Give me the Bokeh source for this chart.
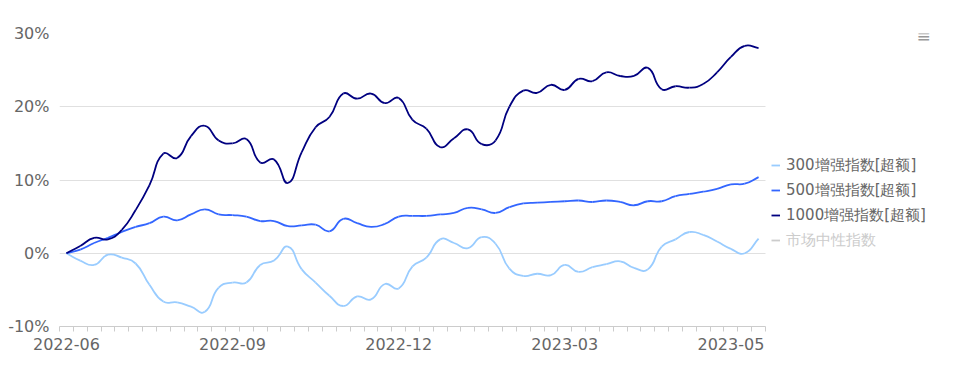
from bokeh.plotting import figure
from bokeh.models import (Range1d, FixedTicker, PrintfTickFormatter, Legend, LegendItem,
                          ColumnDataSource, Label)
from bokeh.embed import file_html
from bokeh.resources import INLINE

# ---------------- data ----------------
dates = [
    "2022-06-10", "2022-06-17", "2022-06-24", "2022-07-01", "2022-07-08", "2022-07-15",
    "2022-07-22", "2022-07-29", "2022-08-05", "2022-08-12", "2022-08-19", "2022-08-26",
    "2022-09-02", "2022-09-09", "2022-09-16", "2022-09-23", "2022-09-30", "2022-10-14",
    "2022-10-21", "2022-10-28", "2022-11-04", "2022-11-11", "2022-11-18", "2022-11-25",
    "2022-12-02", "2022-12-09", "2022-12-16", "2022-12-23", "2022-12-30", "2023-01-06",
    "2023-01-13", "2023-01-20", "2023-02-03", "2023-02-10", "2023-02-17", "2023-02-24",
    "2023-03-03", "2023-03-10", "2023-03-17", "2023-03-24", "2023-03-31", "2023-04-07",
    "2023-04-14", "2023-04-21", "2023-04-28", "2023-05-05", "2023-05-12", "2023-05-19",
    "2023-05-26", "2023-06-02", "2023-06-09",
]

s300 = [0.0, -1.0, -1.6, -0.2, -0.6, -1.4, -4.3, -6.6, -6.7, -7.3, -8.0, -4.7, -4.0,
        -4.0, -1.6, -1.0, 0.9, -2.2, -4.0, -5.8, -7.2, -5.9, -6.3, -4.2, -4.8, -1.8,
        -0.6, 1.9, 1.4, 0.7, 2.2, 1.3, -2.1, -3.1, -2.8, -3.0, -1.6, -2.55, -1.9, -1.5,
        -1.1, -2.0, -2.2, 0.9, 1.9, 2.9, 2.5, 1.6, 0.6, 0.0, 2.0]

s500 = [0.0, 0.5, 1.4, 2.1, 2.9, 3.6, 4.1, 5.0, 4.5, 5.3, 6.0, 5.3, 5.2, 5.0, 4.4,
        4.4, 3.7, 3.8, 3.9, 3.0, 4.7, 4.1, 3.6, 4.0, 5.0, 5.1, 5.1, 5.3, 5.5, 6.2, 6.0,
        5.5, 6.3, 6.8, 6.9, 7.0, 7.1, 7.2, 7.0, 7.2, 7.0, 6.55, 7.1, 7.1, 7.8, 8.1, 8.4,
        8.8, 9.4, 9.5, 10.4]

s1000 = [0.0, 1.0, 2.1, 1.9, 3.2, 5.9, 9.3, 13.6, 13.0, 16.0, 17.4, 15.4, 15.0, 15.6,
         12.4, 12.8, 9.6, 13.8, 17.2, 18.6, 21.8, 21.1, 21.8, 20.5, 21.2, 18.2, 17.0,
         14.5, 15.7, 16.9, 14.9, 15.4, 20.0, 22.2, 21.9, 23.0, 22.3, 23.8, 23.5, 24.7,
         24.2, 24.2, 25.3, 22.4, 22.8, 22.6, 23.1, 24.7, 26.8, 28.3, 28.0]

# market-neutral series is switched off in the legend; its values are not shown
s_neutral = [None]

names = ["300增强指数[超额]", "500增强指数[超额]", "1000增强指数[超额]", "市场中性指数"]
colors = ["#99CCFF", "#3366FF", "#000080", "#CCCCCC"]
label_idx = [0, 12, 24, 36, 48]
y_ticks = [-10, 0, 10, 20, 30]

# ---------------- layout constants (pixels) ----------------
W, H = 946, 360
LEFT, TOP, BOTTOM = 59, 33, 34
DATA_W = 706                 # width of the plotting area used by the data
FRAME_W = W - LEFT           # frame extended to the right so legend/icon are inside it
PX_Y = (H - TOP - BOTTOM) / 40.0

n = len(dates)
x_end = -0.5 + n * FRAME_W / DATA_W
PX_X = DATA_W / n


def bezier_source(vals, smooth=0.5):
    m = len(vals)
    pts = [(float(i), float(v)) for i, v in enumerate(vals)]
    cin, cout = [], []
    for i in range(m):
        cur = pts[i]
        prev = pts[i - 1] if i > 0 else cur
        nxt = pts[i + 1] if i < m - 1 else cur
        vx, vy = nxt[0] - prev[0], nxt[1] - prev[1]
        d0 = (((cur[0] - prev[0]) * PX_X) ** 2 + ((cur[1] - prev[1]) * PX_Y) ** 2) ** 0.5
        d1 = (((nxt[0] - cur[0]) * PX_X) ** 2 + ((nxt[1] - cur[1]) * PX_Y) ** 2) ** 0.5
        r = d0 / (d0 + d1) if (d0 + d1) > 0 else 0.5
        cin.append((cur[0] - vx * r * smooth, cur[1] - vy * r * smooth))
        cout.append((cur[0] + vx * (1 - r) * smooth, cur[1] + vy * (1 - r) * smooth))
    d = dict(x0=[], y0=[], x1=[], y1=[], cx0=[], cy0=[], cx1=[], cy1=[])
    for i in range(m - 1):
        d["x0"].append(pts[i][0]); d["y0"].append(pts[i][1])
        d["x1"].append(pts[i + 1][0]); d["y1"].append(pts[i + 1][1])
        d["cx0"].append(cout[i][0]); d["cy0"].append(cout[i][1])
        d["cx1"].append(cin[i + 1][0]); d["cy1"].append(cin[i + 1][1])
    return ColumnDataSource(d)


# ---------------- figure ----------------
p = figure(width=W, height=H, output_backend="svg", toolbar_location=None,
           x_range=Range1d(-0.5, x_end), y_range=Range1d(-10, 30),
           min_border_left=LEFT, min_border_right=0, min_border_top=TOP,
           min_border_bottom=BOTTOM)
p.outline_line_color = None
p.background_fill_color = "white"
p.border_fill_color = "white"

FONT = "DejaVu Sans"

# x axis (limited to the data part of the frame)
p.xaxis.bounds = (-0.5, n - 0.5)
p.xaxis.ticker = FixedTicker(ticks=label_idx, minor_ticks=[k - 0.5 for k in range(n + 1)])
p.xaxis.major_label_overrides = {i: dates[i][:7] for i in label_idx}
p.xaxis.axis_line_color = "#CCCCCC"
p.xaxis.major_tick_line_color = None
p.xaxis.major_tick_out = 0
p.xaxis.minor_tick_line_color = "#CCCCCC"
p.xaxis.minor_tick_out = 5
p.xaxis.minor_tick_in = 0
p.xaxis.major_label_text_font = FONT
p.xaxis.major_label_text_font_size = "16px"
p.xaxis.major_label_text_color = "#666666"
p.xaxis.major_label_standoff = 6

# y axis
p.yaxis.ticker = FixedTicker(ticks=y_ticks, minor_ticks=[])
p.yaxis.formatter = PrintfTickFormatter(format="%d%%")
p.yaxis.axis_line_color = None
p.yaxis.major_tick_line_color = None
p.yaxis.minor_tick_line_color = None
p.yaxis.major_label_text_font = FONT
p.yaxis.major_label_text_font_size = "16px"
p.yaxis.major_label_text_color = "#666666"
p.yaxis.major_label_standoff = 4

p.xgrid.visible = False
yg = p.ygrid[0]
if "cross_bounds" in yg.properties():
    yg.cross_bounds = (-0.5, n - 0.5)
    yg.grid_line_color = "#E0E0E0"
else:
    yg.visible = False
    p.segment(x0=[-0.5] * len(y_ticks), x1=[n - 0.5] * len(y_ticks), y0=y_ticks,
              y1=y_ticks, line_color="#E0E0E0", line_width=1, level="underlay")

# series
renderers = []
for vals, col in zip([s300, s500, s1000], colors[:3]):
    r = p.bezier(x0="x0", y0="y0", x1="x1", y1="y1", cx0="cx0", cy0="cy0",
                 cx1="cx1", cy1="cy1", source=bezier_source(vals),
                 line_color=col, line_width=1.8)
    renderers.append(r)

r_neutral = p.line(x=list(range(len(s_neutral))), y=s_neutral, line_color=colors[3],
                   line_width=1.8)

common = dict(label_text_font=FONT, label_text_font_size="15px", glyph_width=9,
              glyph_height=20, label_height=20, label_standoff=6, spacing=5,
              padding=0, margin=0, border_line_color=None, background_fill_alpha=0)
LEG_X = 771 - LEFT
FRAME_BOTTOM = H - BOTTOM
leg_a = Legend(items=[LegendItem(label=names[i], renderers=[renderers[i]]) for i in range(3)],
               location=(LEG_X, FRAME_BOTTOM - 225), label_text_color="#666666", **common)
leg_b = Legend(items=[LegendItem(label=names[3], renderers=[r_neutral])],
               location=(LEG_X, FRAME_BOTTOM - 250), label_text_color="#CCCCCC", **common)
p.add_layout(leg_a)
p.add_layout(leg_b)

# toolbox-like menu icon
p.add_layout(Label(x=923 - LEFT, y=FRAME_BOTTOM - 35, x_units="screen", y_units="screen",
                   text="≡", text_font=FONT, text_font_size="17px", text_color="#999999",
                   text_align="center", text_baseline="middle"))

open("out.html", "w").write(file_html(p, INLINE))
